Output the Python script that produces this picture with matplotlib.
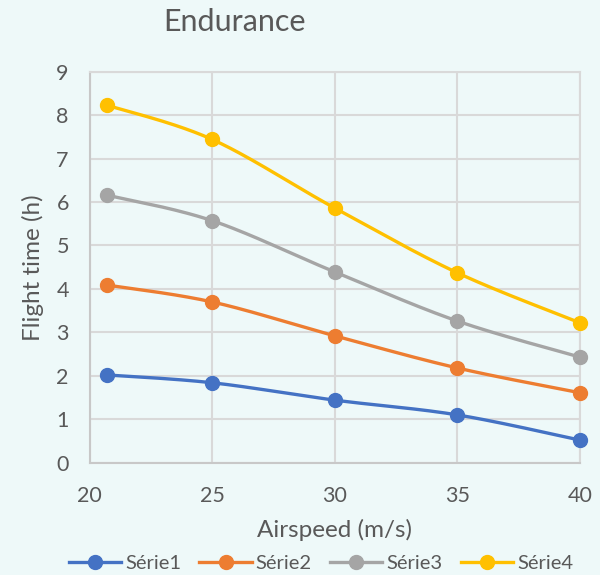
import numpy as np
import matplotlib
matplotlib.use("Agg")
import matplotlib.pyplot as plt

airspeed = [20.7, 25, 30, 35, 40]
serie1 = [2.02, 1.84, 1.44, 1.10, 0.52]
serie2 = [4.09, 3.70, 2.92, 2.18, 1.61]
serie3 = [6.16, 5.57, 4.39, 3.26, 2.43]
serie4 = [8.23, 7.44, 5.86, 4.37, 3.22]
series_names = ["Série1", "Série2", "Série3", "Série4"]
x_ticks = [20, 25, 30, 35, 40]
y_ticks = list(range(0, 10))

colors = ["#4472C4", "#ED7D31", "#A5A5A5", "#FFC000"]
bg = "#EEF9F9"
txt = "#595959"
grid_c = "#D9D9D9"

plt.rcParams['font.family'] = ['Lato', 'DejaVu Sans']


def smooth(x, y, n=40):
    # Excel-like smoothing: cubic Bezier with Catmull-Rom control points (1/6)
    x = np.asarray(x, float)
    y = np.asarray(y, float)
    px = np.concatenate([[x[0]], x, [x[-1]]])
    py = np.concatenate([[y[0]], y, [y[-1]]])
    xs, ys = [], []
    t = np.linspace(0, 1, n)
    for i in range(len(x) - 1):
        p0 = np.array([px[i + 1], py[i + 1]])
        p3 = np.array([px[i + 2], py[i + 2]])
        pm = np.array([px[i], py[i]])
        pp = np.array([px[i + 3], py[i + 3]])
        c1 = p0 + (p3 - pm) / 6.0
        c2 = p3 - (pp - p0) / 6.0
        b = ((1 - t) ** 3)[:, None] * p0 + (3 * (1 - t) ** 2 * t)[:, None] * c1 \
            + (3 * (1 - t) * t ** 2)[:, None] * c2 + (t ** 3)[:, None] * p3
        xs.extend(b[:, 0])
        ys.extend(b[:, 1])
    return np.array(xs), np.array(ys)


fig = plt.figure(figsize=(6, 5.75), dpi=100, facecolor=bg)
ax = fig.add_axes([0.1495, 0.1953, 0.8172, 0.68])
ax.set_facecolor(bg)

handles = []
for vals, name, c in zip([serie1, serie2, serie3, serie4], series_names, colors):
    sx, sy = smooth(airspeed, vals)
    ax.plot(sx, sy, color=c, lw=2.4, solid_capstyle='round', zorder=3, clip_on=False)
    ax.plot(airspeed, vals, 'o', color=c, ms=10, zorder=4, clip_on=False)
    h, = ax.plot([], [], '-o', color=c, lw=2.4, ms=10, label=name)
    handles.append(h)

ax.set_xlim(20, 40)
ax.set_ylim(0, 9)
ax.set_xticks(x_ticks)
ax.set_yticks(y_ticks)
ax.grid(True, color=grid_c, lw=1.5, zorder=0)
ax.set_axisbelow(True)
for s in ax.spines.values():
    s.set_color(grid_c)
    s.set_linewidth(1.5)
ax.spines['left'].set_color("#C8C8C8")
ax.spines['bottom'].set_color("#C8C8C8")
ax.tick_params(length=0, labelsize=15.5, colors=txt)
ax.tick_params(axis='y', pad=15)
ax.tick_params(axis='x', pad=17)

ax.set_xlabel("Airspeed (m/s)", fontsize=17.5, color=txt)
ax.set_ylabel("Flight time (h)", fontsize=17.5, color=txt)
ax.xaxis.set_label_coords(0.5 + (335 - 335) / 490, -(530 - 462.7) / 391)
ax.xaxis.label.set_va('center')
ax.yaxis.set_label_coords(-(89.7 - 33) / 490, 0.5)
ax.yaxis.label.set_va('center')

fig.text(235 / 600, 1 - 22 / 575, "Endurance", fontsize=22, color=txt,
         ha='center', va='center')

fig.legend(handles=handles, loc='center', bbox_to_anchor=(0.535, 1 - 563 / 575),
           ncol=4, frameon=False, fontsize=14.5, labelcolor=txt,
           handlelength=2.6, handletextpad=0.2, columnspacing=0.9)

fig.savefig("out.png", dpi=100, facecolor=bg)
